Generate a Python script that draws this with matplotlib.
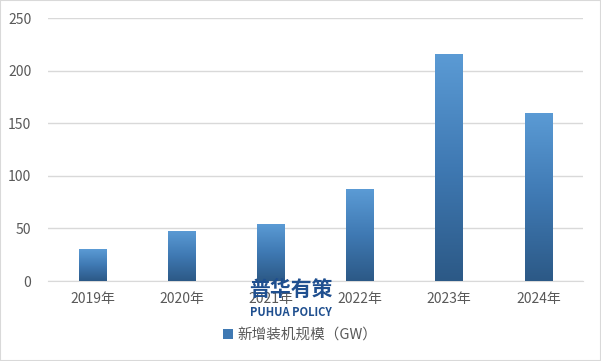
import matplotlib.pyplot as plt
import numpy as np
from matplotlib.colors import LinearSegmentedColormap
from matplotlib.patches import Rectangle

plt.rcParams['font.family'] = ['Noto Sans CJK SC', 'DejaVu Sans']

years = ['2019年', '2020年', '2021年', '2022年', '2023年', '2024年']
capacity = [30, 48, 54, 87, 216, 160]
series_name = '新增装机规模（GW）'

fig = plt.figure(figsize=(6.01, 3.61), dpi=100)
ax = fig.add_axes([0.08, 0.2216, 0.89, 0.7285])

x = np.arange(len(years))
bars = ax.bar(x, capacity, width=0.31, color='none', zorder=3)

# vertical gradient fill: dark at the bottom, light at the top
cmap = LinearSegmentedColormap.from_list('blu', ['#2c5986', '#3f79b3', '#5b9bd5'])
grad = np.linspace(0, 1, 256).reshape(-1, 1)
for b in bars:
    x0, w, h = b.get_x(), b.get_width(), b.get_height()
    im = ax.imshow(grad, extent=[x0, x0 + w, 0, h], origin='lower',
                   cmap=cmap, aspect='auto', zorder=3)
    im.set_clip_path(b)

ax.set_xlim(-0.5, len(years) - 0.5)
ax.set_ylim(0, 250)
ax.set_yticks(range(0, 251, 50))
ax.set_xticks(x)
ax.set_xticklabels(years)
ax.grid(axis='y', color='#d9d9d9', linewidth=1, zorder=0)
for s in ['top', 'right', 'left']:
    ax.spines[s].set_visible(False)
ax.spines['bottom'].set_color('#d9d9d9')
ax.tick_params(length=0, colors='#595959', labelsize=10, pad=8)
ax.tick_params(axis='y', pad=12)

handle = Rectangle((0, 0), 1, 1, facecolor='#3f79b3')
fig.legend([handle], [series_name], loc='center', bbox_to_anchor=(0.5, 0.072),
           frameon=False, fontsize=10.5, labelcolor='#595959',
           handlelength=0.7, handleheight=0.7, handletextpad=0.3)

# watermark (overlaps the 2021 label, as in the original)
fig.text(0.484, 0.197, '普华有策', fontsize=15, fontweight='bold',
         color='#1f4f8f', ha='center', va='center', zorder=10)
fig.text(0.484, 0.133, 'PUHUA POLICY', fontsize=8, fontweight='bold',
         color='#1f4f8f', ha='center', va='center', zorder=10)

# light outer border
fig.patches.append(Rectangle((0, 0), 1, 1, transform=fig.transFigure,
                             fill=False, edgecolor='#d9d9d9', linewidth=1.5))

fig.savefig('out.png', dpi=100)
